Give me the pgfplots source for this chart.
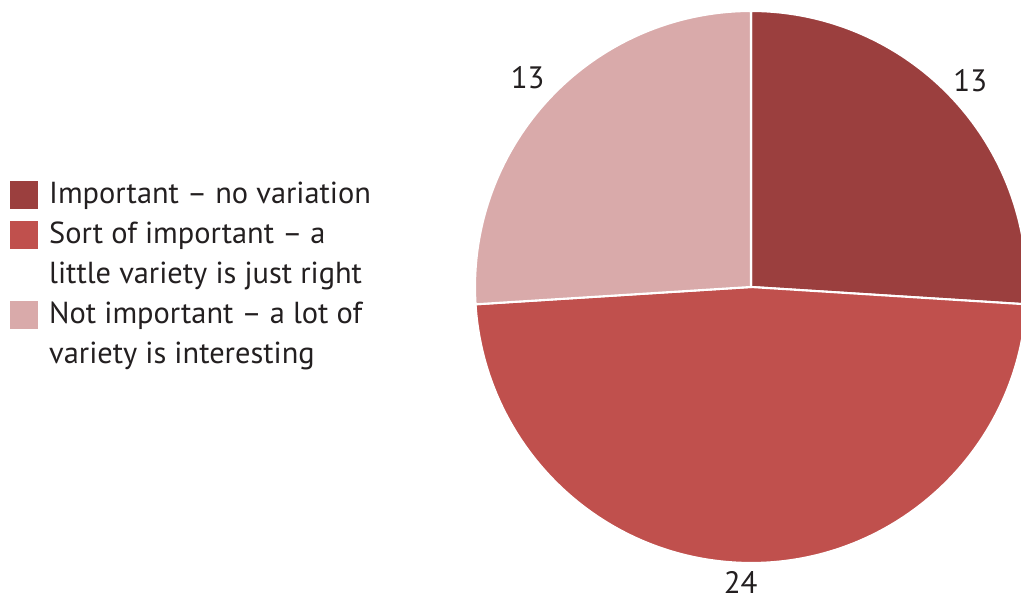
\documentclass[border=0pt]{standalone}
\usepackage{pgfplots}
\usepackage{pgfplotstable}
\usepackage{fontspec}
\setmainfont{PT Sans}
\pgfplotsset{compat=1.18}
\definecolor{cA}{HTML}{9B3F3E}
\definecolor{cB}{HTML}{C0504D}
\definecolor{cC}{HTML}{D9AAAA}
\definecolor{txt}{HTML}{231F20}
\pgfplotstableread{
label value
Important 13
Sort 24
Not 13
}\piedata
\begin{document}
\begin{tikzpicture}
\pgfplotstablegetelem{0}{value}\of\piedata \let\vA\pgfplotsretval
\pgfplotstablegetelem{1}{value}\of\piedata \let\vB\pgfplotsretval
\pgfplotstablegetelem{2}{value}\of\piedata \let\vC\pgfplotsretval
\pgfmathsetmacro\tot{\vA+\vB+\vC}
\pgfmathsetmacro\aS{90}
\pgfmathsetmacro\aA{90-360*\vA/\tot}
\pgfmathsetmacro\aB{\aA-360*\vB/\tot}
\pgfmathsetmacro\aC{\aB-360*\vC/\tot}
\pgfmathsetmacro\mA{(\aS+\aA)/2}
\pgfmathsetmacro\mB{(\aA+\aB)/2}
\pgfmathsetmacro\mC{(\aB+\aC)/2}
\begin{axis}[
  scale only axis, width=5.52cm, height=5.52cm,
  xmin=-1, xmax=1, ymin=-1, ymax=1,
  hide axis, clip=false,
  at={(7.51cm,3.14cm)}, anchor=center,
  legend image code/.code={\fill[#1] (0cm,-0.14cm) rectangle (0.28cm,0.14cm);},
  legend style={draw=none, fill=none, inner sep=0pt, outer sep=0pt,
    at={(rel axis cs:-0.842,0.703)}, anchor=north west,
    row sep=0pt, column sep=0.11cm,
    nodes={inner xsep=0pt, inner ysep=0.03cm, text height=0.26cm, text depth=0.08cm, text=txt,
      font=\fontsize{8.65pt}{10pt}\selectfont}},
  legend cell align=left,
]
\addlegendimage{fill=cA, draw=none}
\addlegendentry{Important – no variation}
\addlegendimage{fill=cB, draw=none}
\addlegendentry{Sort of important – a}
\addlegendimage{empty legend}
\addlegendentry{little variety is just right}
\addlegendimage{fill=cC, draw=none}
\addlegendentry{Not important – a lot of}
\addlegendimage{empty legend}
\addlegendentry{variety is interesting}
\filldraw[fill=cA, draw=white, line width=0.6pt] (axis cs:0,0) -- (axis cs:{cos(\aS)},{sin(\aS)}) arc[start angle=\aS, end angle=\aA, radius=2.76cm] -- cycle;
\filldraw[fill=cB, draw=white, line width=0.6pt] (axis cs:0,0) -- (axis cs:{cos(\aA)},{sin(\aA)}) arc[start angle=\aA, end angle=\aB, radius=2.76cm] -- cycle;
\filldraw[fill=cC, draw=white, line width=0.6pt] (axis cs:0,0) -- (axis cs:{cos(\aB)},{sin(\aB)}) arc[start angle=\aB, end angle=\aC, radius=2.76cm] -- cycle;
\node[text=txt, font=\fontsize{8.8pt}{10pt}\selectfont] at (axis cs:{1.09*cos(\mA)},{1.09*sin(\mA)}) {\vA};
\node[text=txt, font=\fontsize{8.8pt}{10pt}\selectfont] at (axis cs:{1.07*cos(\mB-2)},{1.07*sin(\mB-2)}) {\vB};
\node[text=txt, font=\fontsize{8.8pt}{10pt}\selectfont] at (axis cs:{1.11*cos(\mC)},{1.11*sin(\mC)}) {\vC};
\end{axis}
\pgfresetboundingbox
\path[use as bounding box] (0,0) rectangle (10.21cm,6.01cm);
\end{tikzpicture}
\end{document}
